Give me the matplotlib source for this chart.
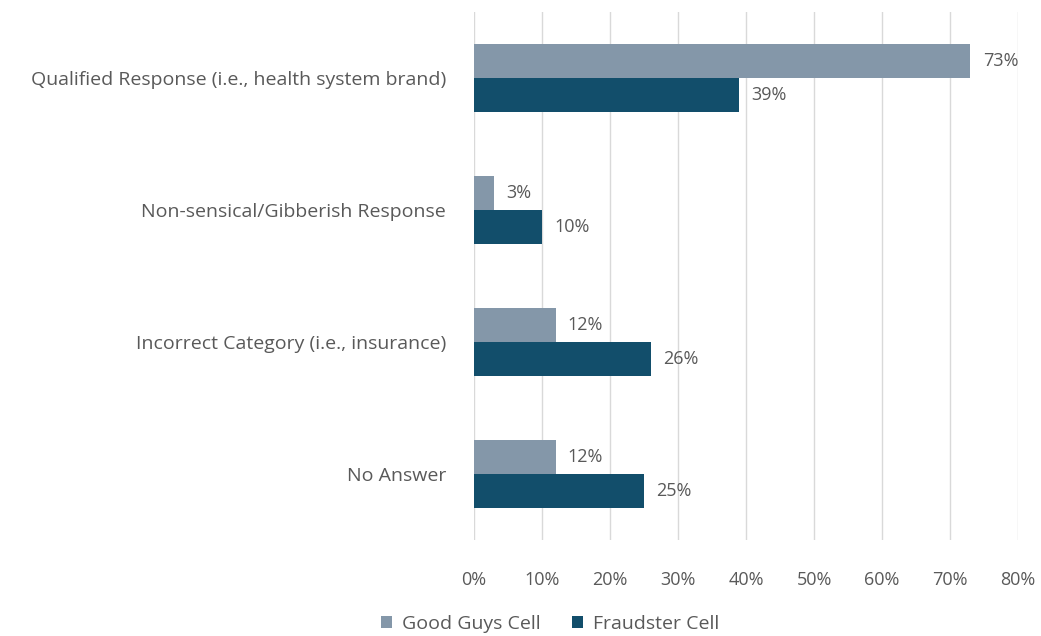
import matplotlib
matplotlib.use("Agg")
import matplotlib.pyplot as plt
import numpy as np
from matplotlib.patches import Patch

categories = ["Qualified Response (i.e., health system brand)",
              "Non-sensical/Gibberish Response",
              "Incorrect Category (i.e., insurance)",
              "No Answer"]
good_guys = [73, 3, 12, 12]
fraudster = [39, 10, 26, 25]
series_names = ["Good Guys Cell", "Fraudster Cell"]

GRAY = "#8497A9"
DARK = "#124E6B"
TXT = "#595959"
GRID = "#D9D9D9"

plt.rcParams["font.family"] = ["Open Sans", "DejaVu Sans"]

fig = plt.figure(figsize=(10.41, 6.36), dpi=100)
ax = fig.add_axes([474 / 1041, 1 - 540 / 636, (1018 - 474) / 1041, 528 / 636])

y = np.arange(len(categories))
h = 0.257
ax.barh(y - h / 2, good_guys, height=h, color=GRAY, label=series_names[0], zorder=2)
ax.barh(y + h / 2, fraudster, height=h, color=DARK, label=series_names[1], zorder=2)

for yi, v in zip(y, good_guys):
    ax.text(v + 1.8, yi - h / 2, f"{v}%", va="center", ha="left", fontsize=13, color=TXT)
for yi, v in zip(y, fraudster):
    ax.text(v + 1.8, yi + h / 2, f"{v}%", va="center", ha="left", fontsize=13, color=TXT)

ax.set_xlim(0, 80)
ax.set_ylim(3.5, -0.5)
ax.set_xticks(range(0, 81, 10))
ax.set_xticklabels([f"{t}%" for t in range(0, 81, 10)], fontsize=13, color=TXT)
ax.set_yticks(y)
ax.set_yticklabels(categories, fontsize=14, color=TXT)
ax.tick_params(length=0)
ax.tick_params(axis="y", pad=20)
ax.tick_params(axis="x", pad=22)
ax.xaxis.grid(True, color=GRID, lw=1, zorder=0)
for s in ax.spines.values():
    s.set_visible(False)

handles = [Patch(facecolor=GRAY, label=series_names[0]),
           Patch(facecolor=DARK, label=series_names[1])]
fig.legend(handles=handles, loc="center", bbox_to_anchor=(550 / 1041, 1 - 624 / 636),
           ncol=2, frameon=False, fontsize=14, labelcolor=TXT,
           handlelength=0.6, handleheight=0.6, columnspacing=1.6, handletextpad=0.5)

fig.savefig("out.png", dpi=100, facecolor="white")
